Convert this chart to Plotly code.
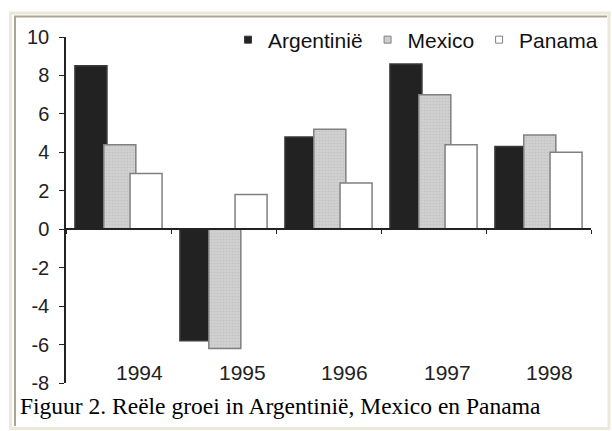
import plotly.graph_objects as go

years = ["1994", "1995", "1996", "1997", "1998"]
argentinie = [8.5, -5.8, 4.8, 8.6, 4.3]
mexico = [4.4, -6.2, 5.2, 7.0, 4.9]
panama = [2.9, 1.8, 2.4, 4.4, 4.0]
series_names = ["Argentinië", "Mexico", "Panama"]
y_ticks = [-8, -6, -4, -2, 0, 2, 4, 6, 8, 10]
y_tick_text = ["-8", "-6", "-4", "-2", "0", "2", "4", "6", "8", "10"]
caption = "Figuur 2. Reële groei in Argentinië, Mexico en Panama"

W, H = 612, 431
ML, MR, MT, MB = 66, 21, 37, 48
PW, PH = W - ML - MR, H - MT - MB


def px(x):
    return (x - ML) / PW


def py(y):
    return (H - MB - y) / PH


FONT = "Liberation Sans, Arial, sans-serif"
BW = 0.305
fills = ["#222222", "#cdcdcd", "#ffffff"]
edges = ["#3a3a3a", "#808080", "#808080"]

fig = go.Figure()
fig.add_trace(go.Bar(
    x=years, y=argentinie, name=series_names[0], width=BW, offset=-0.415, showlegend=False,
    marker=dict(color=fills[0], line=dict(color=edges[0], width=1.5)),
))
fig.add_trace(go.Bar(
    x=years, y=mexico, name=series_names[1], width=BW, offset=-0.14, showlegend=False,
    marker=dict(color=fills[1], line=dict(color=edges[1], width=1.5),
                pattern=dict(shape=".", bgcolor="#d0d0d0", fgcolor="#b4b4b4",
                             size=3, solidity=0.25)),
))
fig.add_trace(go.Bar(
    x=years, y=panama, name=series_names[2], width=BW, offset=0.11, showlegend=False,
    marker=dict(color=fills[2], line=dict(color=edges[2], width=1.5)),
))
# legend-only entries with small square markers
for name, fc, ec in zip(series_names, fills, edges):
    fig.add_trace(go.Scatter(
        x=[None], y=[None], mode="markers", name=name,
        marker=dict(symbol="square", size=7, color=fc, line=dict(color=ec, width=1)),
    ))

shapes = [
    dict(type="rect", xref="paper", yref="paper", x0=px(10.5), x1=px(609), y0=py(428.5), y1=py(13),
         line=dict(color="#ece9d8", width=3), layer="below"),
    dict(type="line", xref="paper", yref="paper", x0=px(14), x1=px(607), y0=py(16.5), y1=py(16.5),
         line=dict(color="#a9a698", width=2)),
    dict(type="line", xref="paper", yref="paper", x0=px(15), x1=px(15), y0=py(16), y1=py(426),
         line=dict(color="#a9a698", width=2)),
]

annotations = [
    dict(x=i, y=py(372), xref="x", yref="paper", text=yr, showarrow=False,
         xshift=21 - 2.5 * i, yanchor="middle", font=dict(family=FONT, size=21, color="#222222"))
    for i, yr in enumerate(years)
]
annotations.append(dict(x=px(18), y=py(406), xref="paper", yref="paper", text=caption,
                        showarrow=False, xanchor="left", yanchor="middle",
                        font=dict(family="Liberation Serif, Times New Roman, serif", size=23.5, color="#000000")))

fig.update_layout(
    width=W, height=H,
    margin=dict(l=ML, r=MR, t=MT, b=MB, autoexpand=False),
    paper_bgcolor="white", plot_bgcolor="white",
    barmode="overlay",
    showlegend=True,
    legend=dict(orientation="h", x=px(228), xanchor="left", y=py(40), yanchor="middle",
                font=dict(family=FONT, size=21, color="#111111"), bgcolor="rgba(0,0,0,0)",
                itemsizing="trace", itemwidth=30),
    xaxis=dict(type="category", range=[-0.5, 4.5], anchor="free", position=py(229),
               showline=True, linecolor="#222222", linewidth=1.5, ticks="outside", ticklen=4,
               tickcolor="#222222", tickson="boundaries", showticklabels=False, showgrid=False,
               zeroline=False),
    yaxis=dict(range=[-8, 10], tickvals=y_ticks, ticktext=y_tick_text, showline=True,
               linecolor="#222222", linewidth=1.5,
               ticks="outside", ticklen=5, tickcolor="#222222", showgrid=False, zeroline=False,
               tickfont=dict(family=FONT, size=20, color="#222222"), ticklabelstandoff=6),
    shapes=shapes,
    annotations=annotations,
)

fig.write_html("out.html", config={"displayModeBar": False},
               post_script="document.body.style.margin='0px';document.body.style.overflow='hidden';")
